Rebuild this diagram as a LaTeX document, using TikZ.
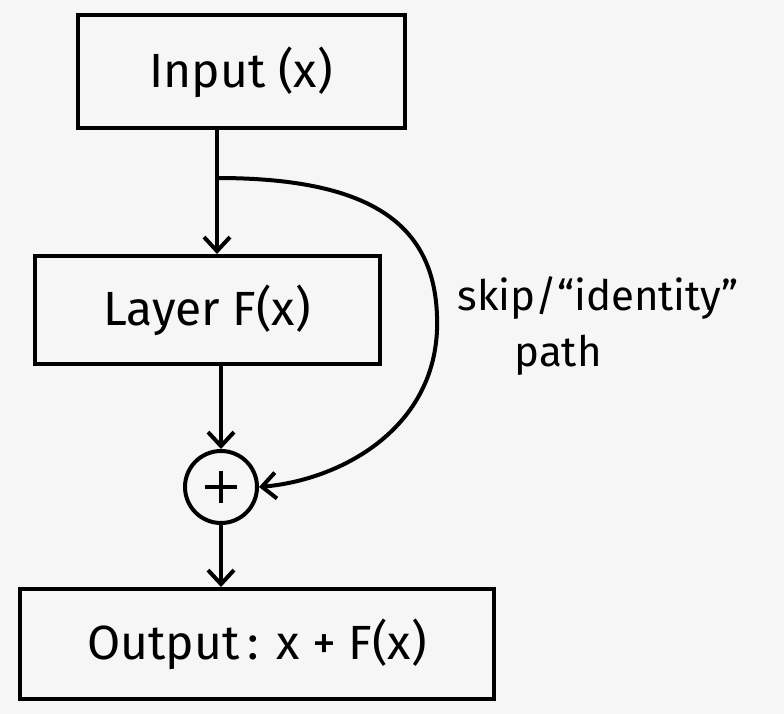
\documentclass[tikz,border=0pt]{standalone}
\usepackage{fontspec}
\setmainfont{Fira Sans}
\usetikzlibrary{arrows.meta}
\begin{document}
\begin{tikzpicture}[x=1pt,y=-1pt,line width=4pt,
  box/.style={draw,rectangle,inner sep=0pt},
  lbl/.style={font=\fontsize{48}{52}\selectfont},
  flow/.style={-{Straight Barb[length=14pt,width=26pt]}}]
 \fill[white!93!gray] (0,0) rectangle (784,714);
 \useasboundingbox (0,0) rectangle (784,714);
 % boxes
 \node[box,lbl,minimum width=327pt,minimum height=113pt] (in) at (241,72) {Input (x)};
 \node[box,lbl,minimum width=345pt,minimum height=108pt] (layer) at (207,310) {Layer F(x)};
 \node[draw,circle,minimum size=72pt,inner sep=0pt] (plus) at (221,487) {};
 \draw (plus.center) ++(-16,0) -- ++(32,0) (plus.center) ++(0,-16) -- ++(0,32);
 \node[box,lbl,minimum width=474pt,minimum height=110pt] (out) at (257,644) {Output\,: x + F(x)};
 \coordinate (split) at (217,178);
 % connectors
 \draw[flow] (in.south -| split) -- (layer.north -| split);
 \draw[flow] (layer.south -| plus) -- (plus.north);
 \draw[flow] (plus.south) -- (out.north -| plus);
 \draw[flow] (split) .. controls (380,178) and (440,230) .. (437,330)
   .. controls (433,430) and (340,480) .. (plus.east);
 % label
 \node[font=\fontsize{42}{46}\selectfont] (skip) at (598,298) {skip/“identity”};
 \node[font=\fontsize{42}{46}\selectfont] (path) at (558,355) {path};
\end{tikzpicture}
\end{document}
